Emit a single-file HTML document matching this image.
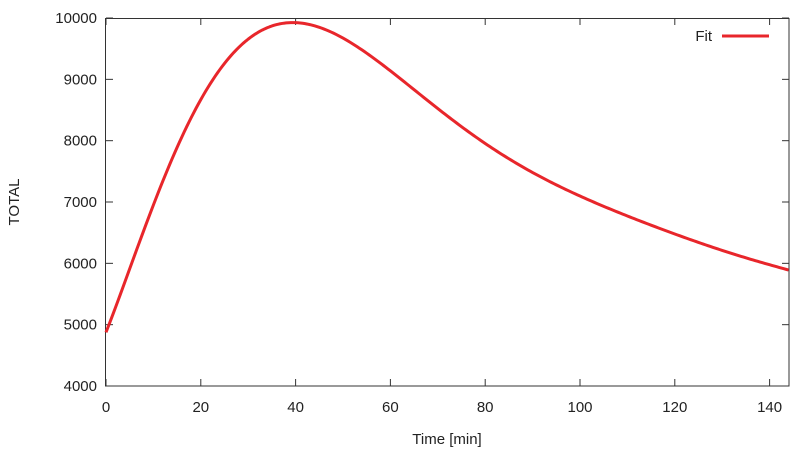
<!DOCTYPE html>
<html><head><meta charset="utf-8"><style>
body{margin:0;background:#fff}
svg text{font-family:"Liberation Sans",Arial,sans-serif;font-size:15px;fill:#222}
</style></head><body>
<svg id="s" width="812" height="455" xmlns="http://www.w3.org/2000/svg">
<g stroke="#333" stroke-width="1" fill="none">
<rect x="105.5" y="18.5" width="683.5" height="367.5"/>
</g>
<g id="ticks" stroke="#333" stroke-width="1"></g>
<g id="labels"></g>
<text x="447" y="444" text-anchor="middle">Time [min]</text>
<text transform="translate(19,202) rotate(-90)" text-anchor="middle">TOTAL</text>
<text x="712" y="41" text-anchor="end">Fit</text>
<line x1="722" y1="36" x2="769" y2="36" stroke="#e8262b" stroke-width="3"/>
<polyline id="curve" fill="none" stroke="#e8262b" stroke-width="3" stroke-linejoin="round"/>
</svg>
<script>
var X=function(t){return 106+t*4.74},Y=function(v){return 386-(v-4000)*0.06133};
var tk=document.getElementById('ticks'),lb=document.getElementById('labels'),ns='http://www.w3.org/2000/svg';
function el(p,n,a,txt){var e=document.createElementNS(ns,n);for(var k in a)e.setAttribute(k,a[k]);if(txt)e.textContent=txt;p.appendChild(e);}
for(var t=0;t<=140;t+=20){var x=X(t);el(tk,'line',{x1:x,y1:386,x2:x,y2:379});el(tk,'line',{x1:x,y1:18,x2:x,y2:25});el(lb,'text',{x:x,y:412,'text-anchor':'middle'},''+t);}
for(var v=4000;v<=10000;v+=1000){var y=Y(v);el(tk,'line',{x1:106,y1:y,x2:113,y2:y});el(tk,'line',{x1:789,y1:y,x2:782,y2:y});el(lb,'text',{x:97,y:y+5,'text-anchor':'end'},''+v);}
var D=[[0,4860],[5.8,6136],[9.3,6788],[12.8,7468],[16.3,8093],[19.8,8663],[23.4,9071],[26.9,9441],[30.4,9696],[33.9,9859],[38.8,9930],[44.5,9859],[51.5,9560],[58.5,9220],[68.4,8663],[78.9,8011],[89.5,7494],[100,7087],[110.5,6760],[121,6462],[131.6,6163],[144.2,5888]];
var deg=7,n=deg+1,M=[],i,j,k;
for(i=0;i<n;i++){M.push(new Array(n+1).fill(0));}
D.forEach(function(p){var u=p[0]/72.1-1,pw=[];for(var q=0;q<2*n;q++)pw.push(Math.pow(u,q));
for(i=0;i<n;i++){for(j=0;j<n;j++)M[i][j]+=pw[i+j];M[i][n]+=pw[i]*p[1];}});
for(i=0;i<n;i++){var piv=i;for(k=i+1;k<n;k++)if(Math.abs(M[k][i])>Math.abs(M[piv][i]))piv=k;var tmp=M[i];M[i]=M[piv];M[piv]=tmp;
for(k=0;k<n;k++)if(k!==i){var f=M[k][i]/M[i][i];for(j=i;j<=n;j++)M[k][j]-=f*M[i][j];}}
var c=[];for(i=0;i<n;i++)c.push(M[i][n]/M[i][i]);
var pts=[];for(var t=0;t<=144.2;t+=0.5){var u=t/72.1-1,v=0;for(i=0;i<n;i++)v+=c[i]*Math.pow(u,i);pts.push(X(t).toFixed(2)+','+Y(v).toFixed(2));}
document.getElementById('curve').setAttribute('points',pts.join(' '));
</script>
</body></html>
